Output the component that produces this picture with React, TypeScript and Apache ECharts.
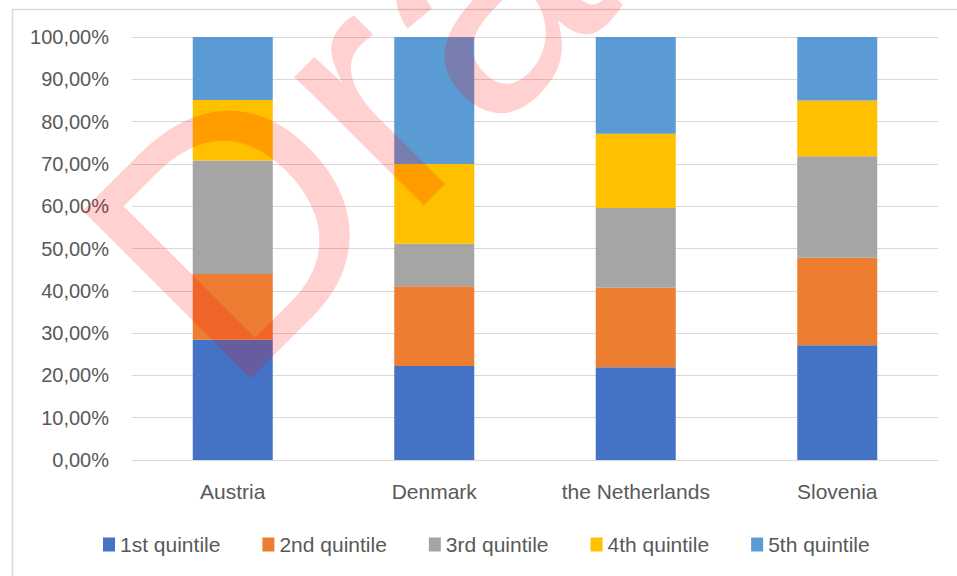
import React, { useEffect, useRef } from "react";
import * as echarts from "echarts";

const categories = ["Austria", "Denmark", "the Netherlands", "Slovenia"];
const seriesNames = ["1st quintile", "2nd quintile", "3rd quintile", "4th quintile", "5th quintile"];
const q1 = [28.4, 22.2, 21.9, 27.1];
const q2 = [15.6, 18.9, 18.8, 20.7];
const q3 = [26.8, 10.0, 18.9, 24.0];
const q4 = [14.3, 18.9, 17.5, 13.2];
const q5 = [14.9, 30.0, 22.9, 15.0];
const seriesValues = [q1, q2, q3, q4, q5];
const colors = ["#4472C4", "#ED7D31", "#A5A5A5", "#FFC000", "#5B9BD5"];
const watermarkText = "Draft";

const FONT = "'Liberation Sans', Arial, sans-serif";

export default function App() {
  const ref = useRef<HTMLDivElement>(null);
  useEffect(() => {
    if (!ref.current) return;
    const chart = echarts.init(ref.current, undefined, { renderer: "svg" });
    chart.setOption({
      animation: false,
      backgroundColor: "#ffffff",
      color: colors,
      textStyle: { fontFamily: FONT },
      grid: { left: 132, right: 19, top: 37, bottom: 116 },
      legend: {
        left: 98,
        top: 529,
        itemWidth: 12,
        itemHeight: 14,
        itemGap: 42,
        icon: "rect",
        textStyle: { fontSize: 21, color: "#595959", fontFamily: FONT },
        data: seriesNames,
      },
      xAxis: {
        type: "category",
        data: categories,
        axisLine: { lineStyle: { color: "#D9D9D9", width: 1 } },
        axisTick: { show: false },
        axisLabel: { fontSize: 21, color: "#595959", margin: 21, fontFamily: FONT },
      },
      yAxis: {
        type: "value",
        min: 0,
        max: 100,
        interval: 10,
        axisLine: { show: false },
        axisTick: { show: false },
        splitLine: { lineStyle: { color: "#D9D9D9", width: 1 } },
        axisLabel: {
          fontSize: 20,
          color: "#595959",
          margin: 23,
          fontFamily: FONT,
          formatter: (v: number) => v.toFixed(2).replace(".", ",") + "%",
        },
      },
      series: seriesNames.map((name, i) => ({
        name,
        type: "bar",
        stack: "total",
        barWidth: 80,
        data: seriesValues[i],
        itemStyle: { color: colors[i] },
      })),
      graphic: [
        {
          type: "rect",
          left: 10,
          top: 7,
          shape: { x: 0, y: 0, width: 1000, height: 700 },
          style: { fill: "none", stroke: "#D9D9D9", lineWidth: 1.5 },
          silent: true,
          z: -1,
        },
        {
          type: "text",
          x: 268,
          y: 436,
          rotation: Math.PI / 4,
          silent: true,
          z: 100,
          style: {
            text: watermarkText,
            fontSize: 345,
            fontFamily: FONT,
            fill: "rgba(255,0,0,0.18)",
            textAlign: "left",
            textVerticalAlign: "bottom",
          },
        },
      ],
    });
    return () => chart.dispose();
  }, []);
  return <div ref={ref} style={{ width: 957, height: 576, position: "absolute", left: 0, top: 0 }} />;
}
